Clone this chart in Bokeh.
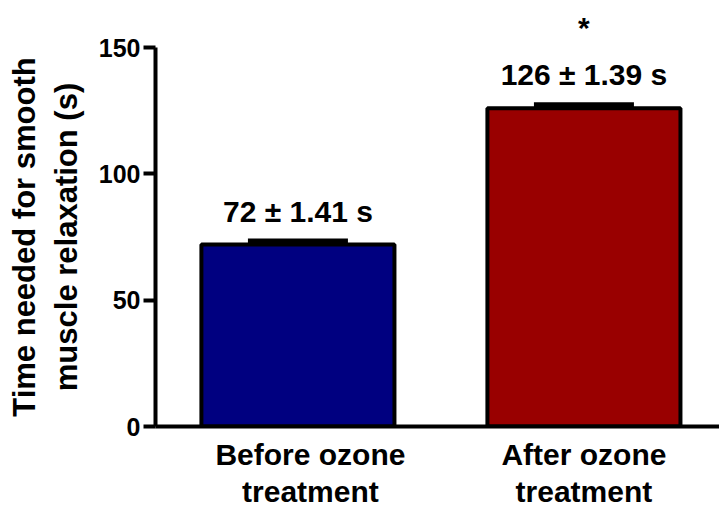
from bokeh.plotting import figure
from bokeh.models import Range1d, ColumnDataSource, Whisker, TeeHead, FixedTicker, LinearAxis
from bokeh.embed import file_html
from bokeh.resources import INLINE
from bokeh.core.properties import value

# Relaxation time before / after ozone treatment (mean ± SEM, seconds)
NB = "\u00a0"
groups = [f"{NB*3}Before ozone\n{NB*3}treatment", "After ozone\ntreatment"]
means = [72, 126]
sems = [1.41, 1.39]
significant = [False, True]
bar_colors = ["#000080", "#990000"]
y_ticks = [0, 50, 100, 150]

xs = [1, 2]
uppers = [m + s for m, s in zip(means, sems)]
texts = [f"{m} \u00b1 {s} s" for m, s in zip(means, sems)]

src = ColumnDataSource(dict(x=xs, top=means, upper=uppers, color=bar_colors, label=texts))

FONT = "Liberation Sans"

p = figure(width=719, height=511, output_backend="svg", toolbar_location=None,
           x_range=Range1d(0.502, 2.474), y_range=Range1d(0, 150),
           min_border_left=155, min_border_right=0, min_border_top=47, min_border_bottom=83)
p.outline_line_color = None
p.xgrid.visible = False
p.ygrid.visible = False
p.background_fill_color = "white"

# bars
p.vbar(x="x", top="top", width=0.675, source=src, fill_color="color",
       line_color="black", line_width=4)

# error bars (upper only)
p.add_layout(Whisker(base="x", upper="upper", lower="top", source=src,
                     upper_head=TeeHead(size=100, line_width=5, line_color="black"),
                     lower_head=None, line_width=4, line_color="black"))

# mean ± SEM annotations
p.text(x="x", y="upper", text="label", source=src, text_align="center",
       text_baseline="alphabetic", y_offset=-30, text_color="black",
       text_font=value(FONT), text_font_style="bold", text_font_size="30px")

# significance marker row above the plot
sig_x = [x for x, s in zip(xs, significant) if s]
star_axis = LinearAxis(ticker=FixedTicker(ticks=sig_x),
                       major_label_overrides={x: "*" for x in sig_x})
star_axis.axis_line_color = None
star_axis.major_tick_line_color = None
star_axis.minor_tick_line_color = None
star_axis.major_tick_out = 0
star_axis.major_tick_in = 0
star_axis.major_label_standoff = 4
star_axis.major_label_text_font = FONT
star_axis.major_label_text_font_style = "bold"
star_axis.major_label_text_font_size = "30px"
star_axis.major_label_text_color = "black"
p.add_layout(star_axis, "above")

# y axis
ya = p.yaxis[0]
ya.ticker = FixedTicker(ticks=y_ticks)
ya.axis_line_width = 4
ya.major_tick_line_width = 4
ya.major_tick_out = 12
ya.major_tick_in = 0
ya.minor_tick_out = 0
ya.minor_tick_in = 0
ya.major_label_standoff = 3
ya.major_label_text_font = FONT
ya.major_label_text_font_style = "bold"
ya.major_label_text_font_size = "25px"
ya.major_label_text_color = "black"
ya.axis_label = "Time needed for smooth\nmuscle relaxation (s)"
ya.axis_label_text_font = FONT
ya.axis_label_text_font_style = "bold"
ya.axis_label_text_font_size = "31px"
ya.axis_label_text_color = "black"
ya.axis_label_standoff = 12

# x axis
xa = p.below[0]
xa.ticker = FixedTicker(ticks=xs)
xa.major_label_overrides = {x: g for x, g in zip(xs, groups)}
xa.axis_line_width = 4
xa.major_tick_line_color = None
xa.major_tick_out = 0
xa.major_tick_in = 0
xa.minor_tick_line_color = None
xa.major_label_standoff = 11
xa.major_label_text_font = FONT
xa.major_label_text_font_style = "bold"
xa.major_label_text_font_size = "30px"
xa.major_label_text_line_height = 1.15
xa.major_label_text_color = "black"

open("out.html", "w").write(file_html(p, INLINE))
